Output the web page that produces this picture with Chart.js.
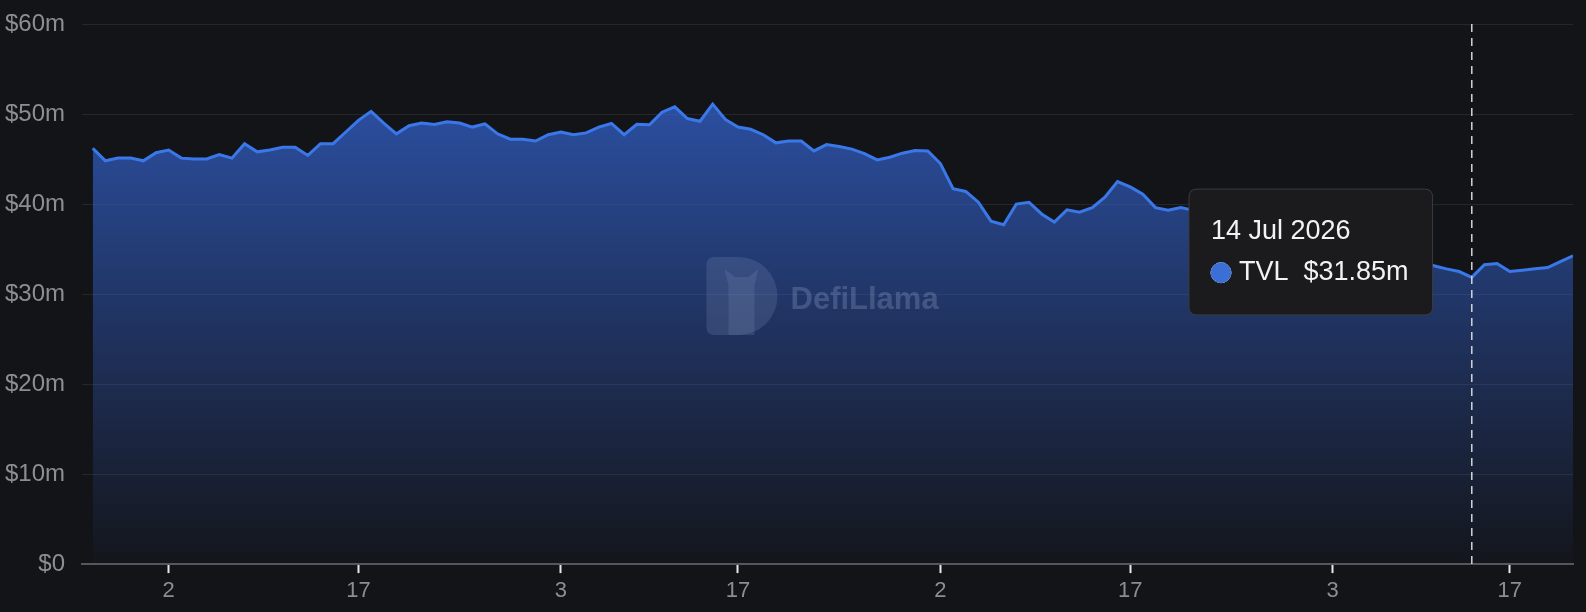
<!DOCTYPE html>
<html><head><meta charset="utf-8">
<script src="https://cdn.jsdelivr.net/npm/chart.js@4.4.1/dist/chart.umd.min.js"></script>
<style>html,body{margin:0;padding:0;background:#131418;overflow:hidden}canvas{display:block}</style>
</head><body>
<canvas id="c" width="1586" height="612"></canvas>
<script>
// ---- data ----
const startDate = '2026-03-27';
const seriesName = 'TVL';
const tvl = [
  46.2, 44.8, 45.1, 45.1, 44.8, 45.7, 46.0, 45.1, 45.0, 45.0,
  45.5, 45.1, 46.7, 45.8, 46.0, 46.3, 46.3, 45.4, 46.7, 46.7,
  48.0, 49.3, 50.3, 49.0, 47.8, 48.7, 49.0, 48.85, 49.15, 49.0,
  48.55, 48.9, 47.8, 47.2, 47.2, 47.0, 47.7, 48.0, 47.7, 47.9,
  48.55, 48.95, 47.7, 48.85, 48.8, 50.2, 50.8, 49.5, 49.2, 51.1,
  49.4, 48.55, 48.3, 47.7, 46.8, 47.0, 47.0, 45.9, 46.6, 46.4,
  46.1, 45.6, 44.9, 45.2, 45.65, 45.95, 45.9, 44.5, 41.7, 41.4,
  40.2, 38.1, 37.7, 40.0, 40.2, 38.9, 38.0, 39.35, 39.1, 39.6,
  40.75, 42.5, 41.9, 41.1, 39.6, 39.3, 39.6, 39.3, 38.9, 38.6,
  38.8, 38.2, 37.6, 37.8, 37.1, 36.6, 36.9, 36.2, 35.8, 35.4,
  35.6, 35.0, 34.6, 34.2, 34.3, 33.7, 33.15, 32.8, 32.5, 31.85,
  33.25, 33.4, 32.5, 32.65, 32.8, 32.95, 33.6, 34.25
];
const tickDates = ['2026-04-02','2026-04-17','2026-05-03','2026-05-17','2026-06-02','2026-06-17','2026-07-03','2026-07-17'];
const tickLabels = ['2','17','3','17','2','17','3','17'];
const yMax = 60, yStep = 10;
const activeDate = '2026-07-14';
const watermarkText = 'DefiLlama';

// ---- helpers ----
const DAY = 86400000;
function toUTC(s){const [y,m,d]=s.split('-').map(Number);return Date.UTC(y,m-1,d);}
const t0 = toUTC(startDate);
const idxOf = s => Math.round((toUTC(s)-t0)/DAY);
const MONTHS=['Jan','Feb','Mar','Apr','May','Jun','Jul','Aug','Sep','Oct','Nov','Dec'];
function fmtDate(i){const d=new Date(t0+i*DAY);return d.getUTCDate()+' '+MONTHS[d.getUTCMonth()]+' '+d.getUTCFullYear();}
const points = tvl.map((v,i)=>({x:i,y:v}));
const tickIdx = tickDates.map(idxOf);
const activeIdx = idxOf(activeDate);

const FAMILY = '"Liberation Sans", Arial, Helvetica, sans-serif';
Chart.defaults.font.family = FAMILY;

const TT = Chart.Tooltip || Chart.registry.getPlugin('tooltip');
TT.positioners.fixedBox = function(items){
  if(!items.length) return false;
  const el = items[0].element;
  return {x: el.x - 161, y: this.chart.chartArea.top + 228};
};

const bgPlugin = {
  id:'bg',
  beforeDraw(chart){const c=chart.ctx;c.save();c.fillStyle='#131418';c.fillRect(0,0,chart.width,chart.height);c.restore();}
};
const overlayPlugin = {
  id:'overlay',
  afterDatasetsDraw(chart){
    const c = chart.ctx, a = chart.chartArea;
    // watermark
    const cx = (a.left+a.right)/2, cy = (a.top+a.bottom)/2;
    c.save();
    c.fillStyle = 'rgba(150,165,205,0.18)';
    const L = cx-121, T = cy-37, B = cy+41, R = cx-50, r = (B-T)/2;
    c.beginPath();
    c.moveTo(L+8,T); c.lineTo(R-r,T); c.arc(R-r,T+r,r,-Math.PI/2,Math.PI/2);
    c.lineTo(L+8,B); c.quadraticCurveTo(L,B,L,B-8); c.lineTo(L,T+8); c.quadraticCurveTo(L,T,L+8,T);
    c.fill();
    c.fillStyle = 'rgba(150,165,205,0.16)';
    c.beginPath();
    c.moveTo(L+22,B); c.lineTo(L+22,T+28); c.lineTo(L+18,T+12); c.lineTo(L+28,T+20);
    c.lineTo(L+42,T+20); c.lineTo(L+52,T+12); c.lineTo(L+48,T+28); c.lineTo(L+48,B);
    c.closePath(); c.fill();
    c.fillStyle = 'rgba(170,185,220,0.25)';
    c.font = 'bold 31px '+FAMILY;
    c.textBaseline = 'middle';
    c.fillText(watermarkText, cx-37, cy+6);
    c.restore();
    // dashed crosshair
    const x = chart.scales.x.getPixelForValue(activeIdx);
    c.save();
    c.strokeStyle = '#d4d4d4'; c.lineWidth = 1.5; c.setLineDash([8,6]);
    c.beginPath(); c.moveTo(x,a.top); c.lineTo(x,a.bottom); c.stroke();
    c.restore();
  }
};

const chart = new Chart(document.getElementById('c'), {
  type:'line',
  data:{datasets:[{
    label: seriesName,
    data: points,
    borderColor:'#3a78ea',
    borderWidth:3,
    pointRadius:0,
    pointHoverRadius:0,
    tension:0,
    fill:'origin',
    backgroundColor:(ctx)=>{
      const ch = ctx.chart, a = ch.chartArea;
      if(!a) return 'rgba(0,0,0,0)';
      const g = ch.ctx.createLinearGradient(0,a.top,0,a.bottom);
      g.addColorStop(0,'rgba(52,100,210,0.85)');
      g.addColorStop(1,'rgba(52,100,210,0.02)');
      return g;
    }
  }]},
  options:{
    responsive:false,
    devicePixelRatio:1,
    animation:false,
    events:[],
    layout:{padding:{top:24,right:13,bottom:2.5,left:0}},
    scales:{
      x:{
        type:'linear',
        min:-0.85,
        max:tvl.length-1,
        afterBuildTicks:s=>{s.ticks=tickIdx.map(v=>({value:v}));},
        ticks:{autoSkip:false,maxRotation:0,padding:5,color:'#8e8e8e',font:{size:22},
          callback:(v,i)=>tickLabels[i]},
        grid:{drawOnChartArea:false,drawTicks:true,tickLength:9,tickColor:'#e8e8e8',tickWidth:2},
        border:{display:true,color:'#55575b',width:2}
      },
      y:{
        min:0,max:yMax,
        afterFit:s=>{s.width=82;s.paddingTop=0;s.paddingBottom=0;},
        ticks:{stepSize:yStep,padding:17,color:'#8e8e8e',font:{size:24},
          callback:v=>v===0?'$0':'$'+v+'m'},
        grid:{color:'#25272b',lineWidth:1,drawTicks:false},
        border:{display:false}
      }
    },
    plugins:{
      legend:{display:false},
      tooltip:{
        enabled:true,
        animation:false,
        position:'fixedBox',
        xAlign:'center',yAlign:'center',
        caretSize:0,caretPadding:0,
        backgroundColor:'#1b1b1d',
        borderColor:'#3c3c3f',borderWidth:1,cornerRadius:8,
        padding:{top:26,bottom:26,left:22,right:24},
        titleColor:'#f2f2f2',bodyColor:'#f2f2f2',
        titleFont:{size:27,weight:'normal'},
        bodyFont:{size:27,weight:'normal'},
        titleMarginBottom:9,
        displayColors:true,usePointStyle:true,
        boxWidth:20,boxHeight:20,boxPadding:6,
        callbacks:{
          title:items=>fmtDate(items[0].parsed.x),
          label:ctx=>ctx.dataset.label+'  $'+ctx.parsed.y.toFixed(2)+'m',
          labelColor:()=>({borderColor:'#3b6fd6',backgroundColor:'#3b6fd6'}),
          labelPointStyle:()=>({pointStyle:'circle',rotation:0})
        }
      }
    }
  },
  plugins:[bgPlugin,overlayPlugin]
});
chart.tooltip.setActiveElements([{datasetIndex:0,index:activeIdx}],{x:0,y:0});
chart.draw();
</script>
</body></html>
